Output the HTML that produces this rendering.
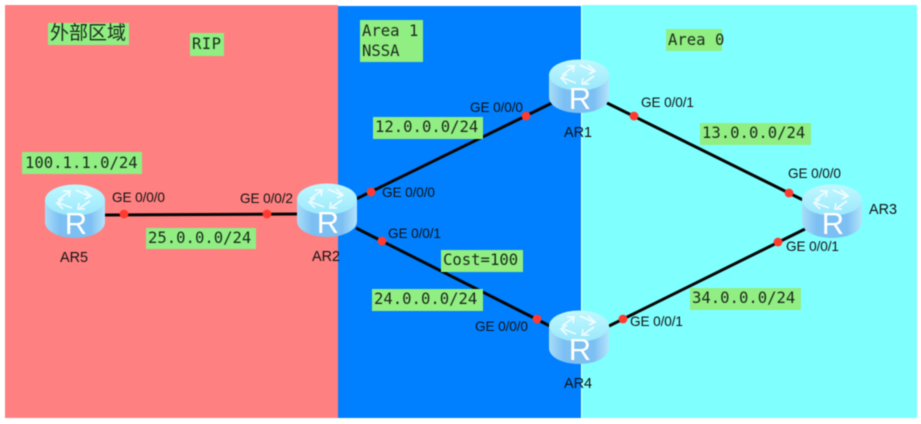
<!DOCTYPE html>
<html>
<head>
<meta charset="utf-8">
<style>
html,body{margin:0;padding:0;background:#fff;width:921px;height:424px;overflow:hidden}
svg{display:block;filter:blur(.5px)}
.m{font-family:"DejaVu Sans Mono","Liberation Mono",monospace;font-size:15.6px;fill:#1c2a1c}
.g{font-family:"Liberation Sans",sans-serif;font-size:13.6px;fill:#111;letter-spacing:-.1px}
.n{font-family:"Liberation Sans",sans-serif;font-size:14.4px;fill:#111}
.c{font-family:"Liberation Sans","Noto Sans CJK SC",sans-serif;font-size:19px;fill:#1c2a1c}
</style>
</head>
<body>
<svg width="921" height="424" viewBox="0 0 921 424" xmlns="http://www.w3.org/2000/svg">
<defs>
<linearGradient id="b" x1="0" x2="1" y1="0" y2="0">
<stop offset="0" stop-color="#a8def9"/><stop offset=".25" stop-color="#7cbff2"/><stop offset=".75" stop-color="#7cbff2"/><stop offset="1" stop-color="#b4e4fb"/>
</linearGradient>
<linearGradient id="t" x1="0" x2="0" y1="0" y2="1">
<stop offset="0" stop-color="#c0f8ff"/><stop offset="1" stop-color="#9ae8fc"/>
</linearGradient>
<g id="r">
<path d="M0 16V38C0 47 13 54 30 54S60 47 60 38V16Z" fill="url(#b)"/>
<ellipse cx="30" cy="16" rx="30" ry="15.5" fill="url(#t)"/>
<g fill="none" stroke="#fff" stroke-width="1.7" opacity=".8">
<path d="M13 16L24 8M18 7L25 7L24 13"/>
<path d="M31 6L44 12M39 6L46 12L40 15"/>
<path d="M45 17L35 24M40 25L33 25L34 19"/>
<path d="M27 24L14 19M18 25L12 19L18 15"/>
</g>
<text x="31" y="50" text-anchor="middle" font-family="Liberation Sans,sans-serif" font-size="31" fill="#fff">R</text>
</g>
</defs>

<rect x="5" y="5" width="333" height="413" fill="#ff8080"/>
<rect x="338" y="6" width="243" height="412" fill="#0080ff"/>
<rect x="582" y="5" width="335" height="413" fill="#80ffff"/>

<g stroke="#050505" stroke-width="3" fill="none">
<line x1="104" y1="215" x2="298" y2="214"/>
<line x1="356" y1="199" x2="552" y2="103"/>
<line x1="607" y1="103" x2="803" y2="200"/>
<line x1="356" y1="228" x2="550" y2="326"/>
<line x1="609" y1="326" x2="805" y2="229"/>
</g>

<use href="#r" x="45" y="184"/>
<use href="#r" x="297" y="183"/>
<use href="#r" x="549" y="59"/>
<use href="#r" x="549" y="310"/>
<use href="#r" x="802" y="184"/>

<g fill="#ff3b30">
<circle cx="124" cy="214" r="4.4"/>
<circle cx="267" cy="214" r="4.4"/>
<circle cx="371" cy="192" r="4.4"/>
<circle cx="526" cy="116" r="4.4"/>
<circle cx="634" cy="116" r="4.4"/>
<circle cx="789" cy="193" r="4.4"/>
<circle cx="778" cy="242" r="4.4"/>
<circle cx="623" cy="319" r="4.4"/>
<circle cx="537" cy="319" r="4.4"/>
<circle cx="382" cy="241" r="4.4"/>
</g>

<g fill="#90ee82">
<rect x="48" y="23" width="81" height="22"/>
<rect x="190" y="33" width="34" height="23"/>
<rect x="22" y="152" width="120" height="22"/>
<rect x="146" y="228" width="110" height="21"/>
<rect x="360" y="20" width="63" height="42"/>
<rect x="666" y="29" width="56" height="22"/>
<rect x="373" y="117" width="110" height="22"/>
<rect x="441" y="250" width="82" height="22"/>
<rect x="372" y="289" width="111" height="22"/>
<rect x="700" y="123" width="111" height="22"/>
<rect x="690" y="288" width="111" height="22"/>
</g>

<text class="c" x="50" y="39">外部区域</text>
<text class="m" x="192" y="49" textLength="29">RIP</text>
<text class="m" x="25" y="168">100.1.1.0/24</text>
<text class="m" x="148" y="243">25.0.0.0/24</text>
<text class="m" x="362" y="36">Area 1</text>
<text class="m" x="362" y="56">NSSA</text>
<text class="m" x="668" y="45">Area 0</text>
<text class="m" x="375" y="132">12.0.0.0/24</text>
<text class="m" x="443" y="265">Cost=100</text>
<text class="m" x="374" y="304">24.0.0.0/24</text>
<text class="m" x="702" y="138">13.0.0.0/24</text>
<text class="m" x="692" y="303">34.0.0.0/24</text>

<text class="g" x="112" y="202">GE 0/0/0</text>
<text class="g" x="240" y="203">GE 0/0/2</text>
<text class="g" x="382" y="197">GE 0/0/0</text>
<text class="g" x="388" y="238">GE 0/0/1</text>
<text class="g" x="470" y="112">GE 0/0/0</text>
<text class="g" x="641" y="107">GE 0/0/1</text>
<text class="g" x="788" y="178">GE 0/0/0</text>
<text class="g" x="786" y="251">GE 0/0/1</text>
<text class="g" x="630" y="326">GE 0/0/1</text>
<text class="g" x="475" y="331">GE 0/0/0</text>

<text class="n" x="60" y="262">AR5</text>
<text class="n" x="312" y="261">AR2</text>
<text class="n" x="564" y="137">AR1</text>
<text class="n" x="564" y="388">AR4</text>
<text class="n" x="869" y="214">AR3</text>
</svg>
</body>
</html>
